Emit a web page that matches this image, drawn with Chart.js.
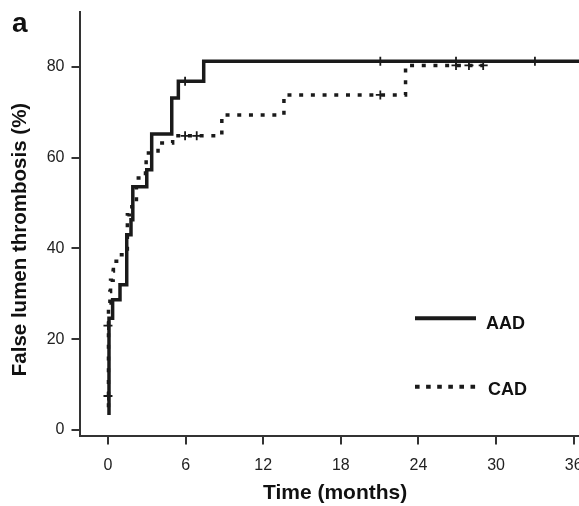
<!DOCTYPE html>
<html><head><meta charset="utf-8">
<script src="https://cdn.jsdelivr.net/npm/chart.js@4/dist/chart.umd.min.js"></script>
<style>
html,body{margin:0;padding:0;overflow:hidden;background:#fff;width:579px;height:506px}
#wrap{position:absolute;left:0;top:0;width:597px;height:506px}
</style></head>
<body><div id="wrap"><canvas id="c"></canvas></div>
<script>
const panelLabel = 'a';
const seriesNames = ['AAD', 'CAD'];
const xTitle = 'Time (months)';
const yTitle = 'False lumen thrombosis (%)';
const xTicks = [0, 6, 12, 18, 24, 30, 36];
const yTicks = [0, 20, 40, 60, 80];

// Kaplan-Meier steps: time (months) and level reached at that time
const aadTime = [0.08, 0.08, 0.36, 0.93, 1.45, 1.78, 1.92, 3.0, 3.38, 4.93, 5.44, 7.4, 37.5];
const aadPct  = [3.3, 24.6, 28.7, 32.0, 43.0, 46.3, 53.6, 57.3, 65.2, 73.1, 76.8, 81.2, 81.2];
const cadTime = [0.04, 0.04, 0.15, 0.2, 0.4, 0.42, 0.9, 1.5, 1.65, 2.2, 2.9, 2.95, 3.87, 5.0, 8.8, 13.6, 23.0, 29.0];
const cadPct  = [5.0, 28.0, 30.5, 33.0, 35.0, 37.2, 38.6, 47.4, 49.2, 55.5, 58.4, 61.0, 63.2, 64.8, 69.4, 73.8, 80.3, 80.3];

// censored observations
const aadCensorTime = [5.96, 21.05, 26.9, 33.0];
const aadCensorPct  = [76.8, 81.2, 81.2, 81.2];
const cadCensorTime = [0, 0, 5.96, 6.86, 21.05, 26.9, 27.9, 29.0];
const cadCensorPct  = [7.5, 23.0, 64.8, 64.8, 73.8, 80.3, 80.3, 80.3];

const pts = (xs, ys) => xs.map((x, i) => ({x, y: ys[i]}));
const FONT = '"Liberation Sans", Arial, Helvetica, sans-serif';
const INK = '#1a1a1a';
const AXIS = '#333';

const extras = {
  id: 'extras',
  afterDraw(chart) {
    const ctx = chart.ctx;
    ctx.save();
    ctx.fillStyle = '#111';
    ctx.textAlign = 'left';
    ctx.textBaseline = 'alphabetic';
    ctx.font = 'bold 28px ' + FONT;
    ctx.fillText(panelLabel, 12, 32);

    ctx.save();
    ctx.translate(20, 239.5);
    ctx.rotate(-Math.PI / 2);
    ctx.textAlign = 'center';
    ctx.textBaseline = 'middle';
    ctx.font = 'bold 20.5px ' + FONT;
    ctx.fillText(yTitle, 0, 0);
    ctx.restore();

    // legend
    const ds = chart.data.datasets;
    const rows = [
      {d: ds[0], y: 318.3, tx: 486, ty: 324.5},
      {d: ds[1], y: 386.7, tx: 488, ty: 389.7}
    ];
    rows.forEach(r => {
      ctx.beginPath();
      ctx.strokeStyle = r.d.borderColor;
      ctx.lineWidth = 4;
      ctx.lineCap = 'butt';
      ctx.setLineDash(r.d.borderDash && r.d.borderDash.length ? [4.6, 6.5] : []);
      ctx.moveTo(415, r.y);
      ctx.lineTo(476, r.y);
      ctx.stroke();
      ctx.setLineDash([]);
      ctx.font = 'bold 18px ' + FONT;
      ctx.textBaseline = 'middle';
      ctx.fillStyle = '#111';
      ctx.fillText(r.d.label, r.tx, r.ty);
    });
    ctx.restore();
  }
};

new Chart(document.getElementById('c'), {
  type: 'line',
  data: {
    datasets: [
      {label: seriesNames[0], data: pts(aadTime, aadPct), stepped: true, borderColor: INK,
       borderWidth: 3.5, pointRadius: 0, fill: false, borderDash: [], order: 2},
      {label: seriesNames[1], data: pts(cadTime, cadPct), stepped: true, borderColor: INK,
       borderWidth: 3.5, pointRadius: 0, fill: false, borderDash: [4, 7.7], borderCapStyle: 'butt', order: 2},
      {label: 'AAD censored', type: 'scatter', data: pts(aadCensorTime, aadCensorPct), showLine: false,
       pointStyle: 'cross', pointRadius: 4.5, pointBorderWidth: 1.8, borderColor: INK, backgroundColor: INK, order: 1},
      {label: 'CAD censored', type: 'scatter', data: pts(cadCensorTime, cadCensorPct), showLine: false,
       pointStyle: 'cross', pointRadius: 4.5, pointBorderWidth: 1.8, borderColor: INK, backgroundColor: INK, order: 1}
    ]
  },
  options: {
    responsive: true,
    maintainAspectRatio: false,
    animation: false,
    devicePixelRatio: 1,
    layout: {padding: {top: 11.7, left: 0, right: 0, bottom: 0}},
    plugins: {legend: {display: false}, tooltip: {enabled: false}},
    scales: {
      x: {
        type: 'linear', min: -2.2, max: 37.31,
        afterBuildTicks: s => { s.ticks = xTicks.map(v => ({value: v})); },
        afterFit: s => { s.height = 70.5; s.paddingLeft = 0; s.paddingRight = 0; },
        grid: {drawOnChartArea: false, drawTicks: true, tickLength: 9, color: AXIS, lineWidth: 2},
        border: {display: true, color: AXIS, width: 2},
        ticks: {font: {family: FONT, size: 16}, color: '#222', padding: 11, maxRotation: 0, autoSkip: false},
        title: {display: true, text: xTitle, font: {family: FONT, size: 21, weight: 'bold'}, color: '#111', padding: {top: 0, bottom: 0}}
      },
      y: {
        type: 'linear', min: -1.2, max: 92.13,
        afterBuildTicks: s => { s.ticks = yTicks.map(v => ({value: v})); },
        afterFit: s => { s.width = 79.5; s.paddingTop = 0; s.paddingBottom = 0; },
        grid: {drawOnChartArea: false, drawTicks: true, tickLength: 8, color: AXIS, lineWidth: 2},
        border: {display: true, color: AXIS, width: 2},
        ticks: {font: {family: FONT, size: 16}, color: '#222', padding: 7, autoSkip: false},
        title: {display: false}
      }
    }
  },
  plugins: [extras]
});
</script>
</body></html>
